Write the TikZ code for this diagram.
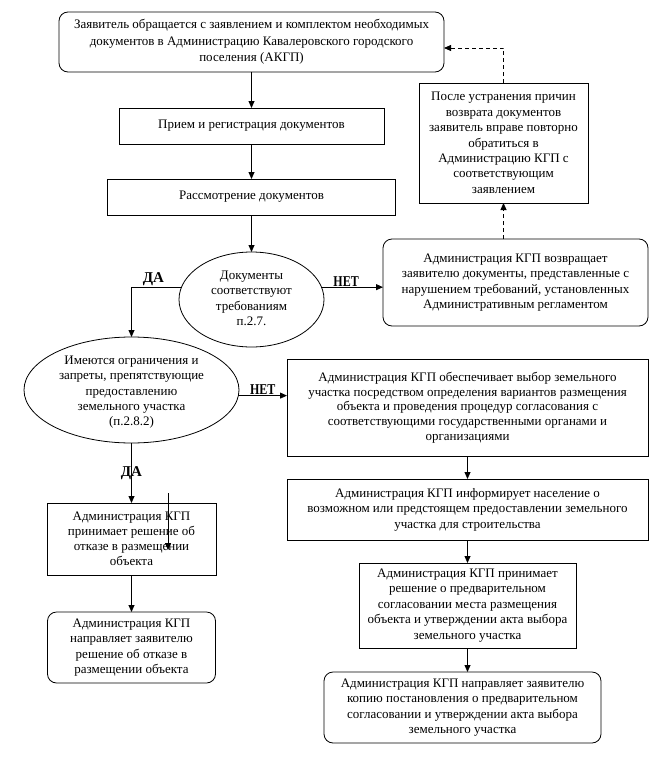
\documentclass[tikz,border=0pt]{standalone}
\usepackage{fontspec}
\setmainfont{Liberation Serif}
\usetikzlibrary{shapes.geometric,arrows.meta}
\begin{document}
\begin{tikzpicture}[x=1pt,y=-1pt,
  every node/.style={font=\fontsize{13}{15.4}\selectfont, align=center, inner sep=0pt, outer sep=0pt},
  box/.style={draw, line width=0.8pt, rectangle},
  rbox/.style={box, rounded corners=9pt},
  decision/.style={draw, line width=0.8pt, ellipse},
  arr/.style={line width=0.8pt, -{Triangle[length=7pt,width=6pt]}},
  darr/.style={arr, dash pattern=on 4pt off 3pt},
  lbl/.style={font=\fontsize{15}{17}\selectfont\bfseries}
]
\useasboundingbox (0,0) rectangle (660,768);

% main column
\node[rbox, minimum width=385pt, minimum height=60pt, font=\fontsize{13}{16.7}\selectfont] (top) at (251.5,42)
  {Заявитель обращается с заявлением и комплектом необходимых\\документов в Администрацию Кавалеровского городского\\поселения (АКГП)};
\node[box, minimum width=265pt, minimum height=36pt] (reg) at (251.5,126) {Прием и регистрация документов};
\node[box, minimum width=288pt, minimum height=36pt] (rass) at (251.5,197) {Рассмотрение документов};
\node[decision, minimum width=145pt, minimum height=95pt] (ell1) at (251.5,299.5)
  {\smash{\raisebox{-3pt}{\begin{tabular}{@{}c@{}}Документы\\соответствуют\\требованиям\\п.2.7.\end{tabular}}}};

% right upper
\node[rbox, minimum width=265pt, minimum height=87pt] (ret) at (515.5,282.5)
  {Администрация КГП возвращает\\заявителю документы, представленные с\\нарушением требований, установленных\\Административным регламентом};
\node[box, minimum width=169pt, minimum height=120pt] (posle) at (503.5,143)
  {После устранения причин\\возврата документов\\заявитель вправе повторно\\обратиться в\\Администрацию КГП с\\соответствующим\\заявлением};

% second decision
\node[decision, minimum width=215pt, minimum height=106pt] (ell2) at (131.5,390)
  {\smash{\raisebox{-5pt}{\begin{tabular}{@{}c@{}}Имеются ограничения и\\запреты, препятствующие\\предоставлению\\земельного участка\\(п.2.8.2)\end{tabular}}}};

% right column
\node[box, minimum width=361pt, minimum height=97pt, font=\fontsize{13}{14.7}\selectfont] (obesp) at (467.5,407.5)
  {Администрация КГП обеспечивает выбор земельного\\участка посредством определения вариантов размещения\\объекта и проведения процедур согласования с\\соответствующими государственными органами и\\организациями};
\node[box, minimum width=361pt, minimum height=61pt] (inform) at (467.5,509.5)
  {Администрация КГП информирует население о\\возможном или предстоящем предоставлении земельного\\участка для строительства};
\node[box, minimum width=217pt, minimum height=85pt] (prin) at (467.5,605.5)
  {Администрация КГП принимает\\решение о предварительном\\согласовании места размещения\\объекта и утверждении акта выбора\\земельного участка};
\node[rbox, minimum width=277pt, minimum height=71pt] (final) at (462.5,707.5)
  {Администрация КГП направляет заявителю\\копию постановления о предварительном\\согласовании и утверждении акта выбора\\земельного участка};

% left column
\node[box, minimum width=169pt, minimum height=72pt, font=\fontsize{13}{15}\selectfont] (refusal) at (131.5,539)
  {Администрация КГП\\принимает решение об\\отказе в размещении\\объекта};
\node[rbox, minimum width=168pt, minimum height=71pt] (leftfinal) at (131.5,647.5)
  {Администрация КГП\\направляет заявителю\\решение об отказе в\\размещении объекта};

% connectors
\draw[arr] (top.south) -- (reg.north);
\draw[arr] (reg.south) -- (rass.north);
\draw[arr] (rass.south) -- (ell1.north);
\draw[arr] (ell1.10) -- node[lbl, above=1pt, pos=0.4] {\scalebox{0.8}[1]{НЕТ}} (ell1.10 -| ret.west);
\draw[arr] (ell1.170) -| node[lbl, above=1pt, pos=0.28] {ДА} (ell2.north);
\draw[arr] (ell2.357) -- node[lbl, above=1pt, pos=0.5] {\scalebox{0.8}[1]{НЕТ}} (ell2.357 -| obesp.west);
\draw[arr] (ell2.south) -- node[lbl] {ДА} (refusal.north);
\draw[arr] (refusal.south) -- (leftfinal.north);
\draw[arr] (obesp.south) -- (inform.north);
\draw[arr] (inform.south) -- (prin.north);
\draw[arr] (prin.south) -- (prin.south |- final.north);
\draw[darr] (posle.south |- ret.north) -- (posle.south);
\draw[darr] (posle.north) |- ([yshift=-6pt]top.east);

\coordinate (s1) at (168,493);
\coordinate (s2) at (168,550);
\draw[arr] (s1) -- (s2);
\end{tikzpicture}
\end{document}
